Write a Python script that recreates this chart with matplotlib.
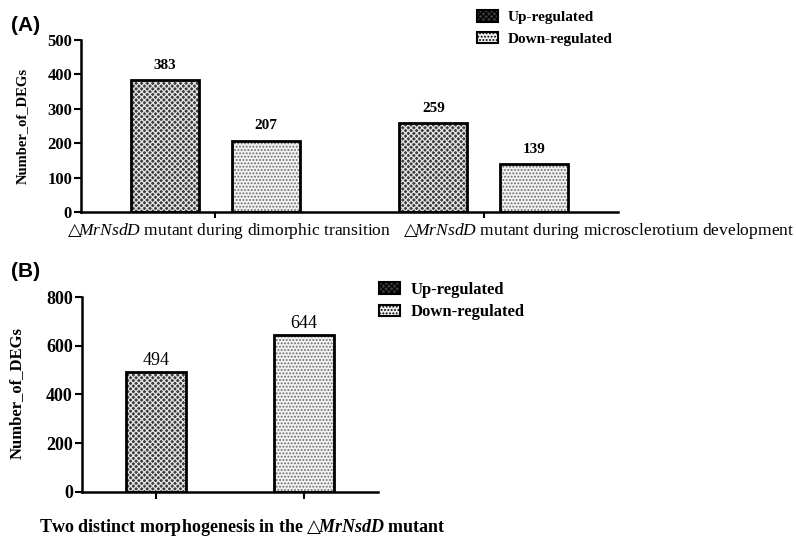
import matplotlib
matplotlib.use('Agg')
import matplotlib.pyplot as plt
from matplotlib.patches import Patch
import numpy as np

plt.rcParams['font.family'] = ['Liberation Serif', 'DejaVu Sans']
plt.rcParams['mathtext.fontset'] = 'custom'
plt.rcParams['mathtext.rm'] = 'Liberation Serif'
plt.rcParams['mathtext.it'] = 'Liberation Serif:italic'
plt.rcParams['mathtext.bf'] = 'Liberation Serif:bold'
plt.rcParams['mathtext.bfit'] = 'Liberation Serif:italic:bold'
plt.rcParams['mathtext.sf'] = 'DejaVu Sans'
plt.rcParams['mathtext.fallback'] = 'stix'
plt.rcParams['hatch.linewidth'] = 0.9

TRI = '$\\mathsf{\u25b3}\\!$'

# Panel A data
groupsA = [TRI + r'$\mathit{MrNsdD}$ mutant during dimorphic transition',
           TRI + r'$\mathit{MrNsdD}$ mutant during microsclerotium development']
upA = [383, 259]
downA = [207, 139]

# Panel B data
seriesB = ['Up-regulated', 'Down-regulated']
valuesB = [494, 644]
xlabelB = 'Two distinct morphogenesis in the ' + TRI + r'$\mathbfit{MrNsdD}$ mutant'

UP = dict(facecolor='#3c3c3c', hatch='xxxxxx', edgecolor='#e4e4e4')
DOWN = dict(facecolor='#f2f2f2', hatch='.....', edgecolor='#6a6a6a')


def hbar(ax, x, h, w, style):
    ax.bar(x, h, w, linewidth=0, **style)
    return ax.bar(x, h, w, fill=False, edgecolor='black', linewidth=2)


def style_axes(ax):
    for s in ['top', 'right']:
        ax.spines[s].set_visible(False)
    for s in ['left', 'bottom']:
        ax.spines[s].set_linewidth(1.8)
    ax.tick_params(width=1.5, length=5)
    ax.tick_params(axis='y', pad=1.5)
    for t in ax.get_yticklabels():
        t.set_fontweight('bold')


fig = plt.figure(figsize=(7.96, 5.4), dpi=100)

# ---- Panel A ----
axA = fig.add_axes([0.1018, 0.6074, 0.6746, 0.3185])
x = np.arange(len(groupsA))
w = 0.254
cu = hbar(axA, x - 0.188, upA, w, UP)
cd = hbar(axA, x + 0.188, downA, w, DOWN)
axA.bar_label(cu, padding=6, fontsize=11, fontweight='bold')
axA.bar_label(cd, padding=6, fontsize=11, fontweight='bold')
axA.set_xlim(-0.5, 1.5)
axA.set_ylim(0, 500)
axA.set_yticks(range(0, 501, 100))
axA.set_xticks(x)
axA.set_xticklabels(['', ''])
axA.tick_params(axis='y', labelsize=12)
axA.set_ylabel('Number_of_DEGs', fontsize=10.5, fontweight='bold')
axA.yaxis.set_label_coords(-0.098, 0.503)
style_axes(axA)
axA.tick_params(axis='x', length=4)
# category labels sit off-centre in the reference
tr = axA.get_xaxis_transform()
axA.text(-0.552, -0.11, groupsA[0], transform=tr, fontsize=12.6, ha='left', va='center')
axA.text(0.701, -0.11, groupsA[1], transform=tr, fontsize=12.6, ha='left', va='center')

handles = [Patch(facecolor=UP['facecolor'], hatch=UP['hatch'], edgecolor='black', linewidth=1.5),
           Patch(facecolor=DOWN['facecolor'], hatch=DOWN['hatch'], edgecolor='black', linewidth=1.5)]
fig.legend(handles, seriesB, loc='upper left', bbox_to_anchor=(0.582, 1.007),
           frameon=False, prop={'weight': 'bold', 'size': 11},
           handlelength=1.4, handleheight=0.8, labelspacing=0.5, handletextpad=0.6)

fig.text(0.014, 0.953, '(A)', fontsize=15, fontweight='bold', family='Liberation Sans', va='center')

# ---- Panel B ----
axB = fig.add_axes([0.103, 0.0889, 0.372, 0.3611])
xb = np.arange(len(valuesB))
cb = hbar(axB, xb, valuesB, 0.405, UP)
# second bar uses the down-regulated pattern
axB.patches[1].set_facecolor(DOWN['facecolor'])
axB.patches[1].set_hatch(DOWN['hatch'])
axB.patches[1].set_edgecolor(DOWN['edgecolor'])
axB.bar_label(cb, padding=2, fontsize=13)
axB.set_xlim(-0.5, 1.5)
axB.set_ylim(0, 800)
axB.set_yticks(range(0, 801, 200))
axB.set_xticks(xb)
axB.set_xticklabels(['', ''])
axB.tick_params(axis='y', labelsize=13)
axB.set_ylabel('Number_of_DEGs', fontsize=12, fontweight='bold')
axB.yaxis.set_label_coords(-0.192, 0.508)
style_axes(axB)

fig.legend(handles, seriesB, loc='upper left', bbox_to_anchor=(0.457, 0.506),
           frameon=False, prop={'weight': 'bold', 'size': 12},
           handlelength=1.3, handleheight=0.7, labelspacing=0.4, handletextpad=0.6)

fig.text(0.305, 0.024, xlabelB, fontsize=13, fontweight='bold', ha='center', va='center')
fig.text(0.014, 0.497, '(B)', fontsize=15, fontweight='bold', family='Liberation Sans', va='center')

fig.savefig('out.png', dpi=100)
